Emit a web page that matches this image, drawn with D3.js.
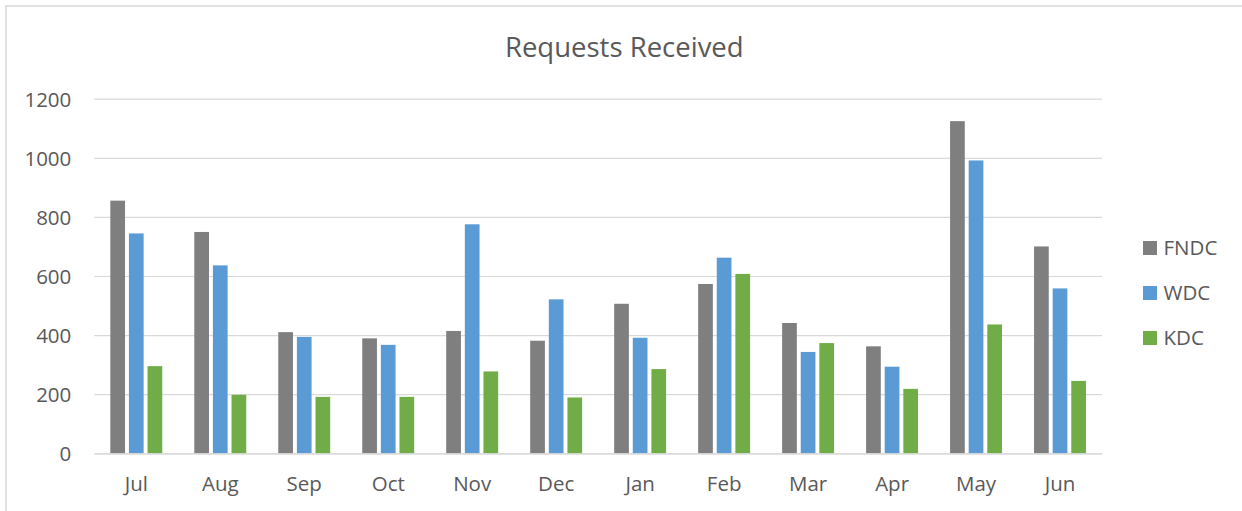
<!DOCTYPE html>
<html>
<head>
<meta charset="utf-8">
<script src="https://cdn.jsdelivr.net/npm/d3@7"></script>
<style>
  html, body { margin: 0; padding: 0; background: #fff; }
  svg { display: block; font-family: "Open Sans", "Noto Sans", sans-serif; }
</style>
</head>
<body>
<svg id="chart" width="1242" height="511"></svg>
<script>
const months = ["Jul","Aug","Sep","Oct","Nov","Dec","Jan","Feb","Mar","Apr","May","Jun"];
const seriesNames = ["FNDC","WDC","KDC"];
const fndc = [855, 749, 410, 389, 414, 381, 506, 573, 441, 362, 1124, 700];
const wdc  = [744, 636, 394, 367, 775, 521, 391, 662, 343, 293, 991, 558];
const kdc  = [295, 198, 191, 191, 277, 189, 285, 607, 373, 218, 436, 245];
const yTicks = [0, 200, 400, 600, 800, 1000, 1200];
const colors = ["#7F7F7F", "#5B9BD5", "#70AD47"];

const values = [fndc, wdc, kdc];
const data = months.map((m, i) => ({month: m, vals: seriesNames.map((s, j) => ({key: s, value: values[j][i]}))}));

const svg = d3.select("#chart");
const W = 1242, H = 511;
const plot = {left: 94.3, right: 1102, top: 98.7, bottom: 453.3};

// chart border (top and left visible)
svg.append("line").attr("x1", 5.5).attr("x2", W).attr("y1", 6).attr("y2", 6)
  .attr("stroke", "#D9D9D9").attr("stroke-width", 1.5);
svg.append("line").attr("x1", 6).attr("x2", 6).attr("y1", 5.5).attr("y2", H)
  .attr("stroke", "#D9D9D9").attr("stroke-width", 1.5);

const x0 = d3.scaleBand().domain(months).range([plot.left, plot.right])
  .paddingInner(0.335).paddingOuter(0.1675);
const x1 = d3.scaleBand().domain(seriesNames).range([0, x0.bandwidth()])
  .paddingInner(0.21).paddingOuter(0.105);
const y = d3.scaleLinear().domain([0, 1200]).range([plot.bottom, plot.top]);
const color = d3.scaleOrdinal().domain(seriesNames).range(colors);

// gridlines
const grid = svg.append("g").attr("class", "grid")
  .attr("transform", `translate(${plot.left},0)`)
  .call(d3.axisLeft(y).tickValues(yTicks).tickSize(-(plot.right - plot.left)).tickFormat(""));
grid.select(".domain").remove();
grid.selectAll("line").attr("stroke", "#D9D9D9").attr("stroke-width", 1.2);

// y labels
const yAxis = svg.append("g")
  .attr("transform", `translate(${plot.left},0)`)
  .call(d3.axisLeft(y).tickValues(yTicks).tickSize(0).tickPadding(23).tickFormat(d3.format("d")));
yAxis.select(".domain").remove();
yAxis.selectAll("text").attr("font-family", "'Open Sans', sans-serif").attr("font-size", 20.5)
  .attr("fill", "#595959").attr("dy", "0.36em");

// bars
const groups = svg.append("g").selectAll("g").data(data).join("g")
  .attr("transform", d => `translate(${x0(d.month)},0)`);
groups.selectAll("rect").data(d => d.vals).join("rect")
  .attr("x", d => x1(d.key))
  .attr("y", d => y(d.value))
  .attr("width", x1.bandwidth())
  .attr("height", d => y(0) - y(d.value))
  .attr("fill", d => color(d.key));

// x axis
const xAxis = svg.append("g")
  .attr("transform", `translate(0,${plot.bottom})`)
  .call(d3.axisBottom(x0).tickSize(0).tickPadding(23));
xAxis.select(".domain").attr("stroke", "#D9D9D9").attr("stroke-width", 1.2);
xAxis.selectAll("text").attr("font-family", "'Open Sans', sans-serif").attr("font-size", 20.5)
  .attr("fill", "#595959");

// title
svg.append("text").attr("x", 624.3).attr("y", 57.3).attr("text-anchor", "middle")
  .attr("font-size", 27.5).attr("fill", "#595959").text("Requests Received");

// legend
const legend = svg.append("g").selectAll("g").data(seriesNames).join("g")
  .attr("transform", (d, i) => `translate(1143,${248 + i * 45})`);
legend.append("rect").attr("x", 0).attr("y", -7).attr("width", 14).attr("height", 14)
  .attr("fill", d => color(d));
legend.append("text").attr("x", 20.5).attr("y", 7.3).attr("font-size", 20.5)
  .attr("fill", "#595959").text(d => d);
</script>
</body>
</html>
